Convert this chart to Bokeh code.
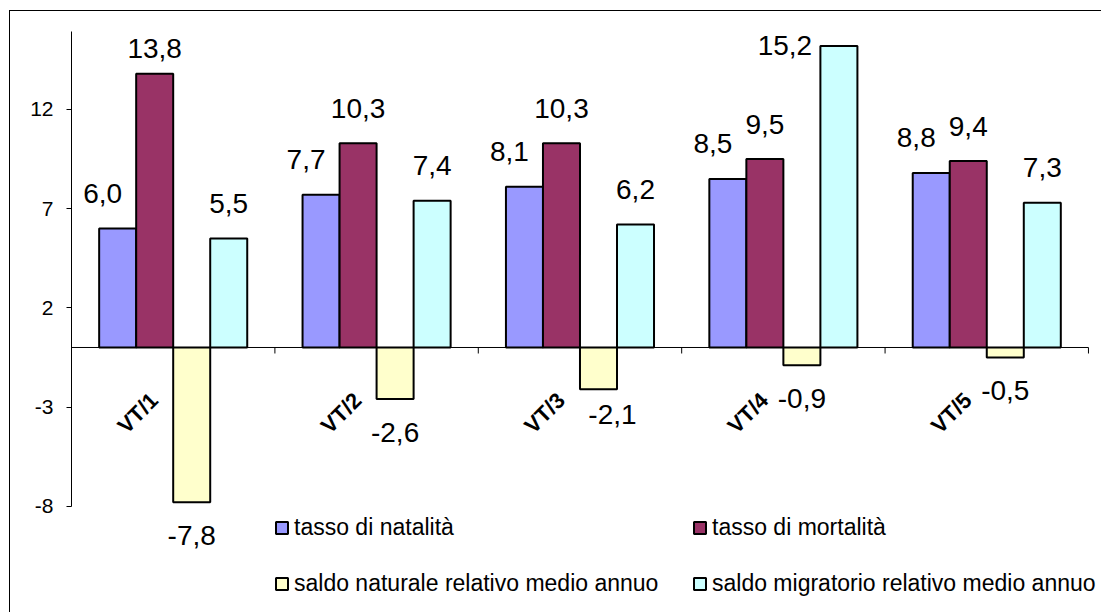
import math
from bokeh.plotting import figure
from bokeh.models import (ColumnDataSource, Range1d, FixedTicker, Legend, LegendItem)
from bokeh.core.properties import value
from bokeh.embed import file_html
from bokeh.resources import INLINE

# ---------------- data ----------------
categories = ["VT/1", "VT/2", "VT/3", "VT/4", "VT/5"]
natalita = [6.0, 7.7, 8.1, 8.5, 8.8]
mortalita = [13.8, 10.3, 10.3, 9.5, 9.4]
saldo_naturale = [-7.8, -2.6, -2.1, -0.9, -0.5]
saldo_migratorio = [5.5, 7.4, 6.2, 15.2, 7.3]
series_names = ["tasso di natalità", "tasso di mortalità",
                "saldo naturale relativo medio annuo",
                "saldo migratorio relativo medio annuo"]
y_ticks = [-8, -3, 2, 7, 12]

# ---------------- style ----------------
colors = ["#9999FF", "#993366", "#FFFFCC", "#CCFFFF"]
FONT = "Liberation Sans"
bar_w = 0.182
offsets = [-1.5 * bar_w, -0.5 * bar_w, 0.5 * bar_w, 1.5 * bar_w]

# label nudges (pixels): (series index, category index) -> (dx, dy)
label_nudge = {
    (1, 0): (0, 10),
    (3, 3): (-54, 35),
    (2, 2): (14, -8),
}
nat_dx = -15
POS_OFF, NEG_OFF = -35, 24

W, H = 1092, 602
n = len(categories)
p = figure(width=W, height=H, output_backend="svg", toolbar_location=None,
           x_range=Range1d(0, n + 0.069), y_range=Range1d(-13.41, 15.93),
           min_border_left=61, min_border_right=0,
           min_border_top=20, min_border_bottom=0)
p.styles = {"margin-left": "9px", "margin-top": "10px",
            "border-left": "1px solid black", "border-top": "1px solid black"}
p.outline_line_color = None
p.xgrid.visible = False
p.ygrid.visible = False
p.xaxis.visible = False
p.background_fill_color = "white"
p.border_fill_color = "white"

yax = p.yaxis[0]
yax.ticker = FixedTicker(ticks=y_ticks)
yax.bounds = (-8, 16)
yax.major_label_overrides = {t: str(t) for t in y_ticks}
yax.major_tick_out = 5
yax.major_tick_in = 0
yax.minor_tick_out = 0
yax.minor_tick_in = 0
yax.axis_line_color = "black"
yax.major_tick_line_color = "black"
yax.major_label_standoff = 13
yax.major_label_text_font = FONT
yax.major_label_text_font_size = "21px"
yax.major_label_text_color = "black"

all_series = [natalita, mortalita, saldo_naturale, saldo_migratorio]
centers = [i + 0.5 for i in range(n)]

renderers = []
for s, vals in enumerate(all_series):
    xs = [c + offsets[s] for c in centers]
    src = ColumnDataSource(dict(x=xs, top=vals))
    r = p.vbar(x="x", top="top", bottom=0, width=bar_w, source=src,
               fill_color=colors[s], line_color="black", line_width=2)
    renderers.append(r)

# zero (category) axis line and boundary ticks
p.line(x=[0, n], y=[0, 0], line_color="black", line_width=1)
p.ray(x=list(range(n + 1)), y=[0] * (n + 1),
      length=6, length_units="screen", angle=-math.pi / 2,
      line_color="black", line_width=1)

# category labels (rotated, just below the zero line)
p.text(x=centers, y=[0] * n, text=categories, angle=math.pi / 4,
       text_align="right", text_baseline="middle", x_offset=-19, y_offset=49,
       text_font=value(FONT), text_font_style="bold", text_font_size="22px",
       text_color="black")

# data labels
pos = dict(x=[], y=[], t=[], xo=[], yo=[])
neg = dict(x=[], y=[], t=[], xo=[], yo=[])
for s, vals in enumerate(all_series):
    for i, v in enumerate(vals):
        dx, dy = label_nudge.get((s, i), (0, 0))
        if s == 0:
            dx += nat_dx
        d = pos if v >= 0 else neg
        d["x"].append(centers[i] + offsets[s])
        d["y"].append(v)
        d["t"].append(f"{v:.1f}".replace(".", ","))
        d["xo"].append(dx)
        d["yo"].append((POS_OFF if v >= 0 else NEG_OFF) + dy)

p.text(x="x", y="y", text="t", x_offset="xo", y_offset="yo",
       source=ColumnDataSource(pos), text_align="center",
       text_baseline="alphabetic", text_font=value(FONT),
       text_font_size="28px", text_color="black")
p.text(x="x", y="y", text="t", x_offset="xo", y_offset="yo",
       source=ColumnDataSource(neg), text_align="center",
       text_baseline="top", text_font=value(FONT),
       text_font_size="28px", text_color="black")

legend = Legend(items=[LegendItem(label=nm, renderers=[r])
                       for nm, r in zip(series_names, renderers)],
                orientation="horizontal", ncols=2, location=(203, 16),
                glyph_width=15, glyph_height=15, label_standoff=5,
                label_width=369,
                label_text_font=FONT, label_text_font_size="23px",
                label_text_color="black", spacing=29, padding=0, margin=0,
                border_line_color=None, background_fill_alpha=0)
p.add_layout(legend)

open("out.html", "w").write(file_html(p, INLINE))
